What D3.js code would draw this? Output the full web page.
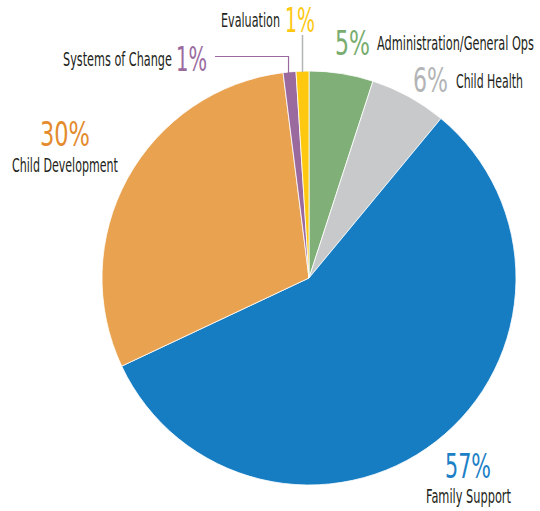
<!DOCTYPE html>
<html>
<head>
<meta charset="utf-8">
<script src="https://cdn.jsdelivr.net/npm/d3@7"></script>
<style>
  html, body { margin: 0; padding: 0; background: #fff; }
  svg { display: block; }
  text { font-family: "DejaVu Sans Condensed", "Liberation Sans Narrow", "Roboto", sans-serif; }
</style>
</head>
<body>
<svg id="chart" width="540" height="511"></svg>
<script>
// ---- data ----
const categories = ["Administration/General Ops", "Child Health", "Family Support", "Child Development", "Systems of Change", "Evaluation"];
const values = [5, 6, 57, 30, 1, 1];
const pctLabels = ["5%", "6%", "57%", "30%", "1%", "1%"];

// ---- styles ----
const sliceColors = ["#80b078", "#c8c9ca", "#177dc2", "#e8a250", "#9a6a9f", "#fec810"];
const pctColors   = ["#78ad6f", "#b3b4b6", "#1c80c6", "#e38b2d", "#9a6a9f", "#fec810"];

// label layout: [pctX, pctBaseline, pctWidth, labelX, labelBaseline, labelWidth]
const layout = [
  [335, 55, 35, 377, 50, 157],
  [413, 92, 35, 456, 88, 67],
  [445, 478, 46, 426, 503, 85],
  [40, 146, 50, 12, 172, 106],
  [176, 71, 31, 63, 66, 109],
  [285, 32, 30, 221, 27, 59]
];

const svg = d3.select("#chart");
const cx = 309, cy = 278, r = 207;

const pie = d3.pie().sort(null).value(d => d)(values);
const arc = d3.arc().innerRadius(0).outerRadius(r);

const g = svg.append("g").attr("transform", `translate(${cx},${cy})`);
g.selectAll("path").data(pie).join("path")
  .attr("d", arc)
  .attr("fill", (d, i) => sliceColors[i])
  .attr("stroke", "#fff")
  .attr("stroke-width", 0.8);

// leader lines
const sysArc = pie[4], evArc = pie[5];
const sysMid = (sysArc.startAngle + sysArc.endAngle) / 2;
const evMid = (evArc.startAngle + evArc.endAngle) / 2;
const sysX = cx + r * Math.sin(sysMid), sysY = cy - r * Math.cos(sysMid);
const evX = cx + r * Math.sin(evMid), evY = cy - r * Math.cos(evMid);

svg.append("polyline")
  .attr("points", `215,56.5 ${sysX - 1},56.5 ${sysX - 1},${sysY + 1}`)
  .attr("fill", "none").attr("stroke", "#9a6a9f").attr("stroke-width", 1.2);
svg.append("line")
  .attr("x1", evX).attr("x2", evX).attr("y1", 35).attr("y2", evY + 1)
  .attr("stroke", "#b3b4b6").attr("stroke-width", 1.5);

// condensed text: scale horizontally to the measured width
function fitText(x, y, width, size, color, str) {
  const t = svg.append("text")
    .attr("x", 0).attr("y", 0)
    .attr("font-size", size)
    .attr("fill", color)
    .text(str);
  const natural = t.node().getComputedTextLength();
  const sx = width / natural;
  t.attr("transform", `translate(${x},${y}) scale(${sx},1)`);
  return t;
}

categories.forEach((c, i) => {
  const L = layout[i];
  fitText(L[0], L[1], L[2], 34, pctColors[i], pctLabels[i]);
  fitText(L[3], L[4], L[5], 20, "#231f20", c);
});
</script>
</body>
</html>
